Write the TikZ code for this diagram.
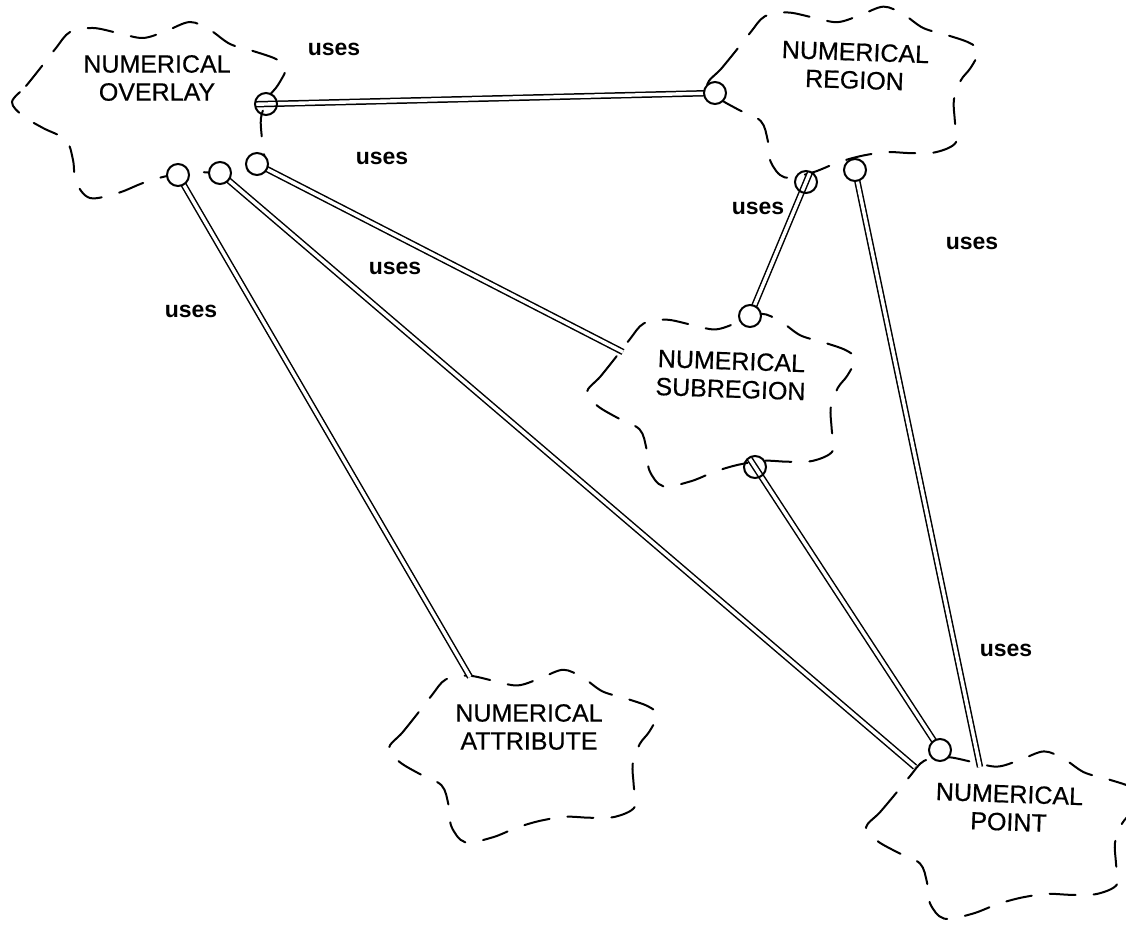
\documentclass[tikz,border=0pt]{standalone}
\usepackage{fontspec}
\setmainfont{Liberation Sans}
\newfontfamily\cloudfont{Liberation Sans}[FakeBold=0.5]
\usetikzlibrary{calc}

\tikzset{
  cloudline/.style={line width=2pt, dash pattern=on 26pt off 18pt, line cap=round},
  bcloud/.pic={
    \draw[cloudline] plot[smooth cycle, tension=0.55] coordinates {
      (-136,-8) (-122,-24) (-106,-44) (-92,-62) (-78,-78) (-55,-82) (-30,-77)
      (-5,-72) (18,-79) (42,-88) (62,-80) (82,-66) (105,-59) (128,-51) (138,-42)
      (130,-25) (120,-12) (113,8) (114,30) (115,52) (95,62) (70,63) (45,62)
      (19,66) (-5,73) (-30,83) (-58,88) (-72,72) (-75,50) (-82,30) (-105,18)
      (-125,6)};
  },
  classname/.style={align=center, inner sep=0pt, font=\cloudfont\fontsize{25}{28}\selectfont},
  useslabel/.style={inner sep=0pt, font=\fontsize{23}{25}\selectfont\bfseries},
  uses/.style={double, double distance=3.4pt, line width=1.5pt},
  ball/.style={circle, draw, line width=2pt, minimum size=22pt, inner sep=0pt, fill=white},
  hball/.style={circle, draw, line width=2pt, minimum size=22pt, inner sep=0pt},
}

\begin{document}
\begin{tikzpicture}[x=1pt, y=-1pt]
\useasboundingbox[fill=white] (0,0) rectangle (1126,931);

% class clouds
\pic at (148,110) {bcloud};
\pic[xscale=0.99, yscale=0.97] at (842,92) {bcloud};
\pic[xscale=0.98, yscale=0.98] at (720,400) {bcloud};
\pic[xscale=0.98, yscale=0.98] at (522,756) {bcloud};
\pic[xscale=1.0, yscale=0.95] at (1002,835) {bcloud};

% class names
\node[classname] (overlay) at (157,78) {NUMERICAL\\OVERLAY};
\node[classname, rotate=-2] (region) at (855,66) {NUMERICAL\\REGION};
\node[classname, rotate=-2] (subregion) at (731,375) {NUMERICAL\\SUBREGION};
\node[classname] (attribute) at (529,727) {NUMERICAL\\ATTRIBUTE};
\node[classname, rotate=-2] (point) at (1009,808) {NUMERICAL\\POINT};

% circle adornments on the clouds
\coordinate (c1) at (266,104);
\coordinate (c2) at (178,175);
\coordinate (c3) at (220,173);
\coordinate (c4) at (257,164);
\coordinate (rc) at (715,93);
\coordinate (rh) at (806,182);
\coordinate (ro) at (855,170);
\coordinate (sc) at (750,316);
\coordinate (sh) at (755,467);
\coordinate (pc) at (940,750);

% free ends on the supplier clouds
\coordinate (sl) at (623,352);
\coordinate (pl) at (915,767);
\coordinate (pt) at (980,767);
\coordinate (ac) at (470,677);

% uses relationships
\draw[uses, shorten <=-10pt] (c1) -- (rc);
\draw[uses, shorten <=-10pt] (rh) -- (sc);
\draw[uses, shorten <=-10pt] (sh) -- (pc);
\draw[uses] (ro) -- (pt);
\draw[uses] (c4) -- (sl);
\draw[uses] (c3) -- (pl);
\draw[uses] (c2) -- (ac);

% circles
\node[ball] (oc2) at (c2) {};
\node[ball] (oc3) at (c3) {};
\node[ball] (oc4) at (c4) {};
\node[ball] (orc) at (rc) {};
\node[ball] (oro) at (ro) {};
\node[ball] (osc) at (sc) {};
\node[ball] (opc) at (pc) {};
\node[hball] (hc1) at (c1) {};
\node[hball] (hrh) at (rh) {};
\node[hball] (hsh) at (sh) {};

% labels
\node[useslabel] (u1) at (334,49) {uses};
\node[useslabel] (u2) at (382,158) {uses};
\node[useslabel] (u3) at (758,208) {uses};
\node[useslabel] (u4) at (972,243) {uses};
\node[useslabel] (u5) at (395,268) {uses};
\node[useslabel] (u6) at (191,311) {uses};
\node[useslabel] (u7) at (1006,650) {uses};
\end{tikzpicture}
\end{document}
